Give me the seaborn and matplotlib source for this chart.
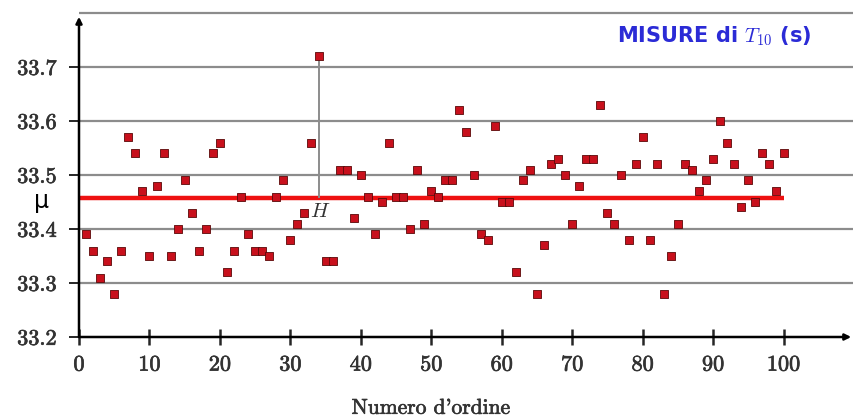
import numpy as np
import pandas as pd
import matplotlib
matplotlib.use("Agg")
import matplotlib.pyplot as plt
import matplotlib.transforms as mtransforms
import matplotlib.patheffects as pe
import seaborn as sns

# measured values of T10 (s), in order of measurement
ordine = list(range(1, 101))
t10 = [
    33.39, 33.36, 33.31, 33.34, 33.28, 33.36, 33.57, 33.54, 33.47, 33.35,
    33.48, 33.54, 33.35, 33.40, 33.49, 33.43, 33.36, 33.40, 33.54, 33.56,
    33.32, 33.36, 33.46, 33.39, 33.36, 33.36, 33.35, 33.46, 33.49, 33.38,
    33.41, 33.43, 33.56, 33.72, 33.34, 33.34, 33.51, 33.51, 33.42, 33.50,
    33.46, 33.39, 33.45, 33.56, 33.46, 33.46, 33.40, 33.51, 33.41, 33.47,
    33.46, 33.49, 33.49, 33.62, 33.58, 33.50, 33.39, 33.38, 33.59, 33.45,
    33.45, 33.32, 33.49, 33.51, 33.28, 33.37, 33.52, 33.53, 33.50, 33.41,
    33.48, 33.53, 33.53, 33.63, 33.43, 33.41, 33.50, 33.38, 33.52, 33.57,
    33.38, 33.52, 33.28, 33.35, 33.41, 33.52, 33.51, 33.47, 33.49, 33.53,
    33.60, 33.56, 33.52, 33.44, 33.49, 33.45, 33.54, 33.52, 33.47, 33.54,
]
xticks = [0, 10, 20, 30, 40, 50, 60, 70, 80, 90, 100]
yticks = [33.2, 33.3, 33.4, 33.5, 33.6, 33.7]
grid_y = [33.3, 33.4, 33.5, 33.6, 33.7, 33.8]
outlier_idx = 34  # the point marked H

df = pd.DataFrame({"ordine": ordine, "t10": t10})
mu = df["t10"].mean()

sns.set_style("white")
plt.rcParams["mathtext.fontset"] = "cm"
plt.rcParams["font.family"] = ["DejaVu Sans"]

W, H = 854, 419
fig = plt.figure(figsize=(W / 100, H / 100), dpi=100)
ymin, ymax = 33.2, 33.82
px_per_unit = 540.0  # pixels per 1.0 on y
ax_h = (ymax - ymin) * px_per_unit
ax = fig.add_axes([79 / W, 82 / H, 775 / W, ax_h / H])
ax.set_xlim(0, 110)
ax.set_ylim(ymin, ymax)
for s in ax.spines.values():
    s.set_visible(False)

# horizontal grid
ax.hlines(grid_y, 0, 110, color="#8c8c8c", lw=1.6, zorder=1, clip_on=False)

# mean line and the distance H
ax.hlines(mu, 0, 100, color="#ee1111", lw=3.2, zorder=2)
h_val = df.loc[df["ordine"] == outlier_idx, "t10"].iloc[0]
ax.vlines(outlier_idx, mu, h_val, color="#8c8c8c", lw=1.4, zorder=2)

sns.scatterplot(data=df, x="ordine", y="t10", marker="s", s=30,
                color="#c8101c", edgecolor="#5a0808", linewidth=0.6,
                ax=ax, zorder=3, legend=False)

# axes with arrows
arrow = dict(arrowstyle="-|>", color="black", lw=1.8, mutation_scale=9,
             shrinkA=0, shrinkB=0)
ax.annotate("", xy=(109.6, 33.2), xytext=(0, 33.2), arrowprops=arrow,
            annotation_clip=False, zorder=4)
ax.annotate("", xy=(0, 33.793), xytext=(0, 33.2), arrowprops=arrow,
            annotation_clip=False, zorder=4)

thick = [pe.withStroke(linewidth=0.5, foreground="#333333")]
ax.set_xticks(xticks)
ax.set_yticks(yticks)
ax.set_xticklabels([str(v) for v in xticks], fontfamily="cmr10")
ax.set_yticklabels([f"{v:.1f}" for v in yticks], fontfamily="cmr10")
for lab in ax.get_xticklabels() + ax.get_yticklabels():
    lab.set_path_effects(thick)
ax.tick_params(axis="x", direction="inout", length=12, width=1.8,
               pad=7, labelsize=16, labelcolor="#333333", bottom=True)
ax.tick_params(axis="y", direction="out", length=7, width=1.4,
               pad=9, labelsize=16, labelcolor="#333333", left=True)
ax.set_xlabel("")
ax.set_ylabel("")

tr = mtransforms.blended_transform_factory(ax.transData, ax.transAxes)
ax.text(50, (337 - 408) / ax_h, "Numero d'ordine", transform=tr,
        ha="center", va="center", fontsize=15.5, fontfamily="cmr10",
        color="#333333", path_effects=thick)

ax.text(34.25, 33.433, r"$H$", ha="center", va="center", fontsize=15,
        color="#333333", zorder=5)

fig.text(42 / W, 1 - 208 / H, "μ", ha="center", va="baseline",
         fontsize=17, color="black")

fig.text(714 / W, 1 - 36 / H, r"MISURE di $T_{10}$ (s)",
         ha="center", va="center", fontsize=15, fontweight="bold",
         color="#2b2bd6")

fig.savefig("out.png", dpi=100)
